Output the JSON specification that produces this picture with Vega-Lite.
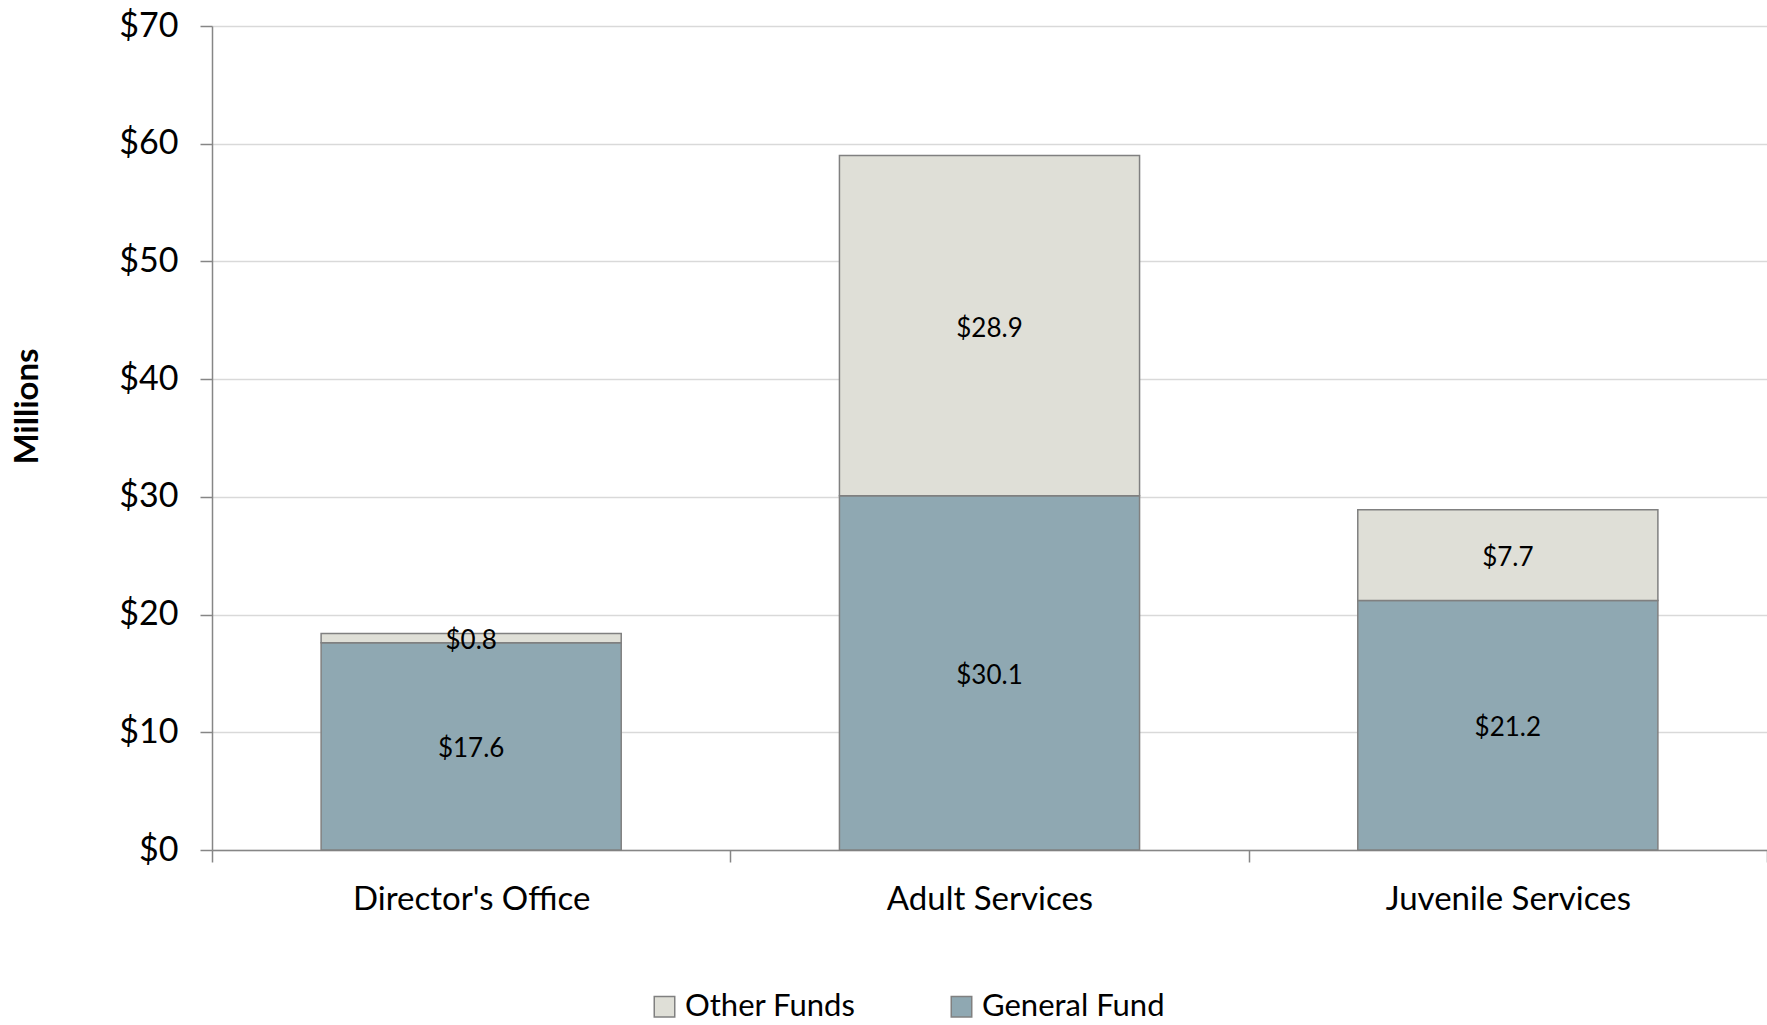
{
  "$schema": "https://vega.github.io/schema/vega-lite/v6.json",
  "width": 1555,
  "height": 824,
  "autosize": {"type": "none"},
  "padding": {"left": 212, "top": 26, "right": 0, "bottom": 175},
  "background": "white",
  "config": {
    "view": {"stroke": null},
    "font": "Lato",
    "axis": {"labelFont": "Lato", "titleFont": "Lato", "labelColor": "#000000", "titleColor": "#000000", "labelLimit": 0}
  },
  "data": {
    "values": [
      {"division": "Director's Office", "fund": "General Fund", "amount": 17.6},
      {"division": "Director's Office", "fund": "Other Funds", "amount": 0.8},
      {"division": "Adult Services", "fund": "General Fund", "amount": 30.1},
      {"division": "Adult Services", "fund": "Other Funds", "amount": 28.9},
      {"division": "Juvenile Services", "fund": "General Fund", "amount": 21.2},
      {"division": "Juvenile Services", "fund": "Other Funds", "amount": 7.7}
    ]
  },
  "encoding": {
    "x": {
      "field": "division",
      "type": "nominal",
      "sort": ["Director's Office", "Adult Services", "Juvenile Services"],
      "scale": {"paddingInner": 0, "paddingOuter": 0},
      "axis": {
        "title": null,
        "labelAngle": 0,
        "labelFontSize": 33,
        "labelPadding": 21,
        "tickBand": "extent",
        "tickSize": 12,
        "tickColor": "#868686",
        "tickWidth": 1.5,
        "domainColor": "#868686",
        "domainWidth": 1.5,
        "grid": false
      }
    }
  },
  "layer": [
    {
      "mark": {"type": "bar", "stroke": "#808080", "strokeWidth": 1.5, "width": {"band": 0.579}},
      "encoding": {
        "y": {
          "field": "amount",
          "type": "quantitative",
          "stack": "zero",
          "scale": {"domain": [0, 70]},
          "axis": {
            "title": "Millions",
            "titleFontSize": 33,
            "titleFontWeight": "bold",
            "titleAngle": -90,
            "titleX": -185,
            "titleY": 380,
            "titleAlign": "center",
            "titleBaseline": "middle",
            "values": [0, 10, 20, 30, 40, 50, 60, 70],
            "format": "$.0f",
            "labelFontSize": 34,
            "labelPadding": 22,
            "tickSize": 12,
            "tickColor": "#868686",
            "tickWidth": 1.5,
            "domainColor": "#868686",
            "domainWidth": 1.5,
            "gridColor": "#d9d9d9",
            "gridWidth": 1.5
          }
        },
        "color": {
          "field": "fund",
          "type": "nominal",
          "scale": {"domain": ["Other Funds", "General Fund"], "range": ["#dfdfd7", "#8fa8b2"]},
          "legend": {
            "title": null,
            "orient": "none",
            "direction": "horizontal",
            "legendX": 437,
            "legendY": 965,
            "symbolType": "square",
            "symbolSize": 420,
            "symbolStrokeColor": "#808080",
            "symbolStrokeWidth": 1.5,
            "labelFontSize": 31,
            "labelFont": "Lato",
            "labelColor": "#000000",
            "labelLimit": 0,
            "labelOffset": 5,
            "columnPadding": 90
          }
        },
        "order": {"field": "fund", "sort": "ascending"}
      }
    },
    {
      "transform": [
        {"stack": "amount", "groupby": ["division"], "sort": [{"field": "fund", "order": "ascending"}], "as": ["y0", "y1"]},
        {"calculate": "(datum.y0 + datum.y1) / 2", "as": "mid"}
      ],
      "mark": {"type": "text", "fontSize": 26, "font": "Lato", "color": "#000000", "baseline": "middle", "align": "center", "dy": 3},
      "encoding": {
        "y": {"field": "mid", "type": "quantitative"},
        "text": {"field": "amount", "type": "quantitative", "format": "$.1f"}
      }
    }
  ]
}
